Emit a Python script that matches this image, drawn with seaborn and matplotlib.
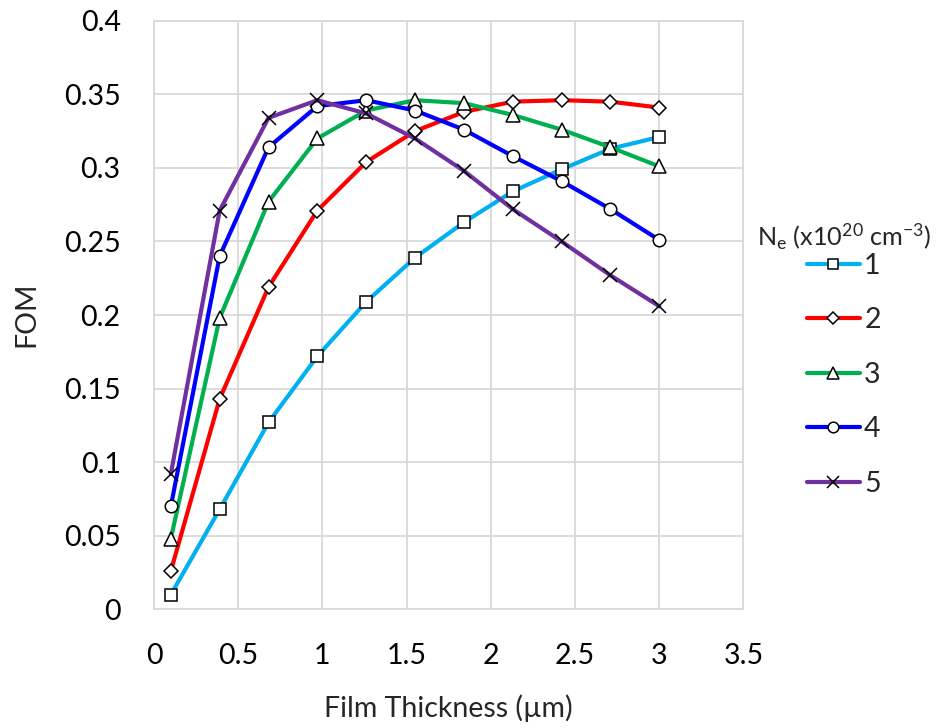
import numpy as np
import pandas as pd
import matplotlib
matplotlib.use("Agg")
import matplotlib.pyplot as plt
from matplotlib.lines import Line2D
import seaborn as sns

# Film thickness (µm) and figure of merit for each carrier concentration
thickness = [0.1, 0.39, 0.68, 0.97, 1.26, 1.55, 1.84, 2.13, 2.42, 2.71, 3.0]
fom_ne1 = [0.010, 0.068, 0.127, 0.172, 0.209, 0.239, 0.263, 0.284, 0.299, 0.313, 0.321]
fom_ne2 = [0.026, 0.143, 0.219, 0.271, 0.304, 0.325, 0.338, 0.345, 0.346, 0.345, 0.341]
fom_ne3 = [0.048, 0.198, 0.277, 0.320, 0.339, 0.346, 0.344, 0.336, 0.326, 0.314, 0.301]
fom_ne4 = [0.070, 0.240, 0.314, 0.342, 0.346, 0.339, 0.326, 0.308, 0.291, 0.272, 0.251]
fom_ne5 = [0.092, 0.271, 0.334, 0.346, 0.337, 0.320, 0.298, 0.272, 0.250, 0.227, 0.206]
ne_labels = ["1", "2", "3", "4", "5"]

series = [fom_ne1, fom_ne2, fom_ne3, fom_ne4, fom_ne5]
df = pd.DataFrame({
    "thickness": np.tile(thickness, len(ne_labels)),
    "fom": np.concatenate(series),
    "ne": np.repeat(ne_labels, len(thickness)),
})

palette = {"1": "#00B0F0", "2": "#FF0000", "3": "#00B050", "4": "#0000FF", "5": "#7030A0"}
markers = {"1": "s", "2": "D", "3": "^", "4": "o", "5": "x"}
marker_sizes = {"s": 8.5, "D": 6.8, "^": 9.5, "o": 9.0, "x": 10.5}

sns.set_style("white")
plt.rcParams.update({
    "font.family": ["Lato", "DejaVu Sans"],
    "mathtext.fontset": "custom",
    "mathtext.rm": "Lato",
    "mathtext.it": "Lato:italic",
    "mathtext.bf": "Lato:bold",
})
FS = 20.5
GRID = "#d9d9d9"

fig = plt.figure(figsize=(9.43, 7.28), dpi=100)
ax = fig.add_axes([0.1633, 0.1630, 0.6251, 0.8085])

# one call per concentration so filled and line-art markers can coexist
for k in ne_labels:
    sub = df[df["ne"] == k]
    m = markers[k]
    sns.lineplot(
        data=sub, x="thickness", y="fom", color=palette[k], marker=m,
        errorbar=None, sort=False, lw=3, markersize=marker_sizes[m],
        markerfacecolor="white", markeredgecolor="black",
        markeredgewidth=1.1, legend=False, ax=ax,
    )

ax.set_xlim(0, 3.5)
ax.set_ylim(0, 0.4)
xt = np.round(np.arange(0, 3.51, 0.5), 2)
yt = np.round(np.arange(0, 0.401, 0.05), 2)
ax.set_xticks(xt)
ax.set_xticklabels([f"{v:g}" for v in xt])
ax.set_yticks(yt)
ax.set_yticklabels([f"{v:g}" for v in yt])
ax.tick_params(length=0, pad=24, labelsize=FS, colors="#000000")
ax.grid(True, color=GRID, lw=1.3)
ax.set_axisbelow(True)
for sp in ax.spines.values():
    sp.set_color(GRID)
    sp.set_linewidth(1.3)

ax.set_xlabel("Film Thickness (µm)", fontsize=FS)
ax.xaxis.label.set_va("center")
ax.xaxis.set_label_coords(0.5, -0.1677)
ax.set_ylabel("FOM", fontsize=FS)
ax.yaxis.label.set_va("center")
ax.yaxis.set_label_coords(-0.216, 0.501)

handles = [
    Line2D([], [], color=palette[k], lw=3, marker=markers[k],
           markersize=marker_sizes[markers[k]] * 0.85, markerfacecolor="white",
           markeredgecolor="black", markeredgewidth=1.1)
    for k in ne_labels
]
fig.legend(handles, ne_labels, loc="upper left", bbox_to_anchor=(0.8554, 0.6525),
           bbox_transform=fig.transFigure, frameon=False, fontsize=FS,
           borderpad=0, borderaxespad=0, handlelength=1.87, handletextpad=0.15,
           labelspacing=1.0)
fig.text(0.8027, 0.6745, r"N$_\mathrm{e}$ (x10$^\mathrm{20}$ cm$^\mathrm{-3}$)",
         fontsize=18.2, ha="left", va="center")

fig.savefig("out.png", dpi=100)
